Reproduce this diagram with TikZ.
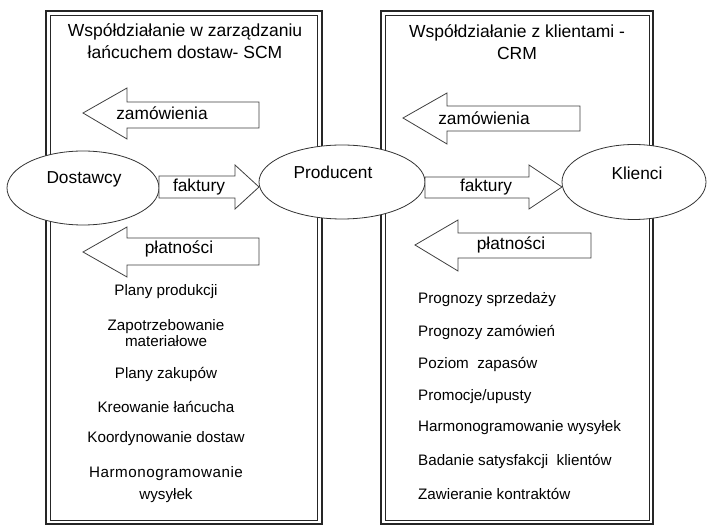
\documentclass[tikz,border=0pt]{standalone}
\usepackage{fontspec}
\setmainfont{Liberation Sans}
\usetikzlibrary{shapes.geometric}
\begin{document}
\begin{tikzpicture}[x=1pt,y=-1pt,
  boxo/.style={draw=black!85,line width=1.4pt},
  boxi/.style={draw=black!85,line width=0.8pt},
  ell/.style={draw=black!80,line width=0.8pt,fill=white,ellipse,inner sep=0pt},
  barrow/.style={draw=black!75,line width=0.8pt,fill=white,line join=miter},
  title/.style={font=\fontsize{17.5}{22}\selectfont,align=center,inner sep=0pt},
  lbl/.style={font=\fontsize{17.3}{20}\selectfont,inner sep=0pt},
  item/.style={font=\fontsize{15.2}{16}\selectfont,inner sep=0pt,align=center},
  itemr/.style={font=\fontsize{15.2}{16}\selectfont,inner sep=0pt,anchor=west},
]
\useasboundingbox (0,0) rectangle (707,526);
\fill[white] (0,0) rectangle (707,526);
% frames
\draw[boxo] (46,11) rectangle (322,524);
\draw[boxi] (50,15) rectangle (317,520);
\draw[boxo] (381,11) rectangle (653,524);
\draw[boxi] (385,15) rectangle (649,520);
% titles
\node[title] (t1) at (185,41) {Współdziałanie w zarządzaniu\\łańcuchem dostaw- SCM};
\node[title] (t2) at (517,42) {Współdziałanie z klientami -\\CRM};
% ellipses
\node[ell,minimum width=152pt,minimum height=74pt] (dost) at (83,188) {};
\node[ell,minimum width=166pt,minimum height=74pt] (prod) at (342,182) {};
\node[ell,minimum width=144pt,minimum height=75pt] (kli) at (634,182) {};
\node[lbl] (dostt) at (84,179) {Dostawcy};
\node[lbl] (prodt) at (333,172) {Producent};
\node[lbl] (klit) at (637,173) {Klienci};
% block arrows, left panel
\draw[barrow] (83,113) -- (127,88) -- (127,102) -- (259,102) -- (259,128) -- (127,128) -- (127,139) -- cycle;
\node[lbl] (zam1) at (162,113) {zamówienia};
\draw[barrow] (159,176) -- (235,176) -- (235,165) -- (259,187) -- (235,209) -- (235,198) -- (159,198) -- cycle;
\node[lbl] (fak1) at (199,187) {faktury};
\draw[barrow] (83,252) -- (127,227) -- (127,238) -- (259,238) -- (259,265) -- (127,265) -- (127,277) -- cycle;
\node[lbl] (pla1) at (179,249) {płatności};
% block arrows, right panel
\draw[barrow] (403,118) -- (447,93) -- (447,106) -- (580,106) -- (580,131) -- (447,131) -- (447,144) -- cycle;
\node[lbl] (zam2) at (484,118) {zamówienia};
\draw[barrow] (425,177) -- (529,177) -- (529,165) -- (562,187) -- (529,209) -- (529,198) -- (425,198) -- cycle;
\node[lbl] (fak2) at (486,187) {faktury};
\draw[barrow] (415,245) -- (458,220) -- (458,233) -- (591,233) -- (591,258) -- (458,258) -- (458,271) -- cycle;
\node[lbl] (pla2) at (511,245) {płatności};
% left list
\node[item] (l1) at (166,292) {Plany produkcji};
\node[item] (l2) at (166,333) {Zapotrzebowanie\\materiałowe};
\node[item] (l3) at (166,374) {Plany zakupów};
\node[item] (l4) at (166,407) {Kreowanie łańcucha};
\node[item] (l5) at (166,439) {Koordynowanie dostaw};
\node[item,font=\fontsize{15.2}{22}\selectfont] (l6) at (166,485) {{\addfontfeature{LetterSpace=3.5}Harmonogramowanie}\\wysyłek};
% right list
\node[itemr] (r1) at (418,300) {Prognozy sprzedaży};
\node[itemr] (r2) at (418,332) {Prognozy zamówień};
\node[itemr] (r3) at (418,364) {Poziom\ \ zapasów};
\node[itemr] (r4) at (418,397) {Promocje/upusty};
\node[itemr] (r5) at (418,428) {Harmonogramowanie wysyłek};
\node[itemr] (r6) at (418,461) {Badanie satysfakcji\ \ klientów};
\node[itemr] (r7) at (418,494) {Zawieranie kontraktów};
\end{tikzpicture}
\end{document}
